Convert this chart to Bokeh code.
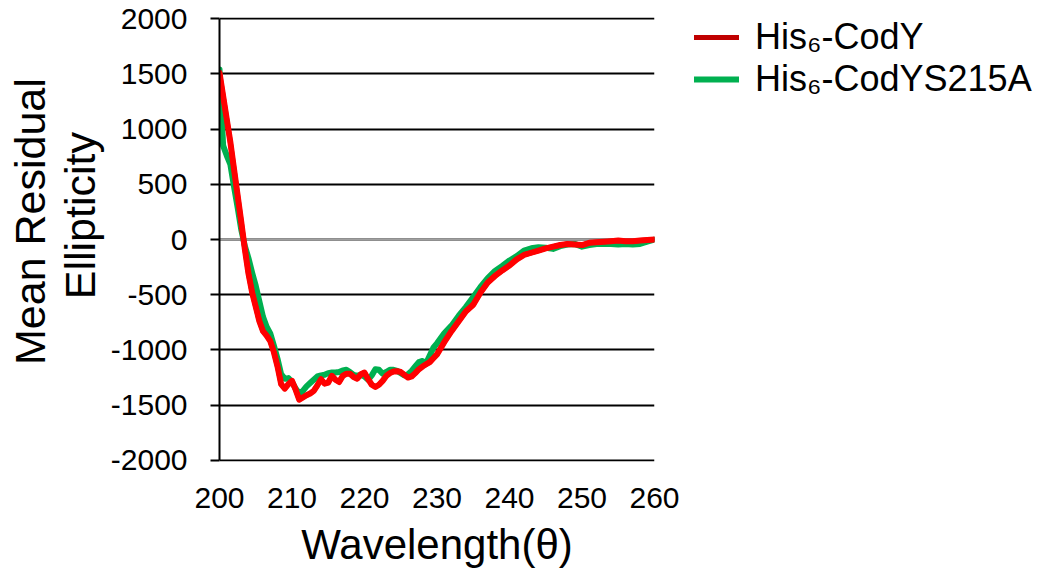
from bokeh.plotting import figure
from bokeh.models import (Range1d, SingleIntervalTicker, Span, Legend, LegendItem)
from bokeh.embed import file_html
from bokeh.resources import INLINE

# ---- data ----
wl_cody = [200.0, 200.5, 201.0, 201.5, 202.0, 202.5, 203.0, 203.5, 204.0, 204.5,
           205.0, 205.5, 206.0, 206.5, 207.0, 207.5, 208.0, 208.5, 209.0, 209.5,
           210.0, 210.5, 211.0, 211.5, 212.0, 212.5, 213.0, 213.5, 214.0, 214.5,
           215.0, 215.5, 216.0, 216.5, 217.0, 217.5, 218.0, 218.5, 219.0, 219.5,
           220.0, 220.5, 221.0, 221.5, 222.0, 222.5, 223.0, 223.5, 224.0, 224.5,
           225.0, 225.5, 226.0, 226.5, 227.0, 227.5, 228.0, 228.5, 229.0, 229.5,
           230.0, 231.0, 232.0, 233.0, 234.0, 235.0, 236.0, 237.0, 238.0, 239.0,
           240.0, 241.0, 242.0, 243.0, 244.0, 245.0, 246.0, 247.0, 248.0, 249.0,
           250.0, 251.0, 252.0, 253.0, 254.0, 255.0, 256.0, 257.0, 258.0, 259.0,
           260.0]
mre_cody = [1510, 1300, 1090, 880, 640, 400, 160, -90, -310, -480,
            -610, -740, -830, -870, -920, -1020, -1150, -1310, -1350, -1310,
            -1280, -1360, -1450, -1430, -1410, -1395, -1370, -1320, -1265, -1305,
            -1295, -1235, -1270, -1290, -1235, -1215, -1215, -1245, -1260, -1220,
            -1205, -1265, -1315, -1335, -1315, -1280, -1235, -1210, -1195, -1192,
            -1200, -1225, -1250, -1240, -1210, -1175, -1150, -1130, -1110, -1075,
            -1040, -930, -830, -740, -650, -590, -480, -390, -330, -280,
            -235, -180, -140, -120, -100, -80, -65, -50, -40, -45,
            -50, -30, -25, -20, -15, -10, -15, -15, -10, -5,
            0]

wl_s215a = [200.0, 200.5, 201.0, 201.5, 202.0, 202.5, 203.0, 203.5, 204.0, 204.5,
            205.0, 205.5, 206.0, 206.5, 207.0, 207.5, 208.0, 208.5, 209.0, 209.5,
            210.0, 210.5, 211.0, 211.5, 212.0, 212.5, 213.0, 213.5, 214.0, 214.5,
            215.0, 215.5, 216.0, 216.5, 217.0, 217.5, 218.0, 218.5, 219.0, 219.5,
            220.0, 220.5, 221.0, 221.5, 222.0, 222.5, 223.0, 223.5, 224.0, 224.5,
            225.0, 225.5, 226.0, 226.5, 227.0, 227.5, 228.0, 228.5, 229.0, 229.5,
            230.0, 231.0, 232.0, 233.0, 234.0, 235.0, 236.0, 237.0, 238.0, 239.0,
            240.0, 241.0, 242.0, 243.0, 244.0, 245.0, 246.0, 247.0, 248.0, 249.0,
            250.0, 251.0, 252.0, 253.0, 254.0, 255.0, 256.0, 257.0, 258.0, 259.0,
            260.0]
mre_s215a = [1540, 850, 760, 680, 480, 290, 90, -60, -170, -300,
             -420, -560, -700, -790, -850, -960, -1080, -1220, -1260, -1255,
             -1290, -1350, -1395, -1370, -1330, -1300, -1270, -1240, -1230, -1225,
             -1210, -1205, -1205, -1200, -1185, -1180, -1200, -1225, -1235, -1225,
             -1240, -1270, -1230, -1175, -1180, -1215, -1200, -1180, -1180, -1190,
             -1210, -1230, -1220, -1190, -1150, -1110, -1100, -1120, -1050, -980,
             -940, -850, -780, -690, -610, -520, -430, -350, -285, -240,
             -190, -150, -100, -80, -70, -75, -85, -60, -45, -40,
             -65, -50, -40, -40, -40, -45, -40, -45, -40, -20,
             0]

series_names = ["His\u2086-CodY", "His\u2086-CodYS215A"]
legend_colors = ["#C00000", "#00B050"]
line_colors = ["#FF0000", "#00B050"]

y_tick_values = [-2000, -1500, -1000, -500, 0, 500, 1000, 1500, 2000]
y_tick_labels = ["-2000", "-1500", "-1000", "-500", "0", "500", "1000", "1500", "2000"]
x_tick_step = 10

y_title_lines = ["Mean Residual", "Ellipticity"]
x_title = "Wavelength(\u03b8)"

FONT = "Liberation Sans"
NB = "\u00a0"

p = figure(frame_width=435, frame_height=444,
           min_border_left=219, min_border_right=390,
           min_border_top=17, min_border_bottom=100,
           x_range=Range1d(200, 260), y_range=Range1d(-2010, 2010),
           output_backend="svg", toolbar_location=None)
p.outline_line_color = None
p.background_fill_color = "white"
p.border_fill_color = "white"

# grids
p.xgrid.grid_line_color = None
p.ygrid.grid_line_color = "#000000"
p.ygrid.grid_line_width = 2
p.ygrid.ticker = y_tick_values

zero = Span(location=0, dimension="width", line_color="#A0A0A0", line_width=2, level="underlay")
p.add_layout(zero)

# y axis
ya = p.yaxis[0]
ya.ticker = y_tick_values
ya.major_label_overrides = {v: s for v, s in zip(y_tick_values, y_tick_labels)}
ya.bounds = (y_tick_values[0], y_tick_values[-1])
ya.axis_line_color = "#000000"
ya.axis_line_width = 2
ya.major_tick_line_color = "#000000"
ya.major_tick_line_width = 2
ya.major_tick_out = 9
ya.major_tick_in = 0
ya.minor_tick_line_color = None
ya.major_label_text_font = FONT
ya.major_label_text_font_size = "30px"
ya.major_label_text_color = "#000000"
ya.major_label_standoff = 23
ya.axis_label = (NB * 3 + y_title_lines[0]) + "\n" + (NB * 4 + y_title_lines[1])
ya.axis_label_text_font = FONT
ya.axis_label_text_font_size = "43px"
ya.axis_label_text_font_style = "normal"
ya.axis_label_text_color = "#000000"
ya.axis_label_text_line_height = 1.04
ya.axis_label_standoff = 4

# x axis
xa = p.xaxis[0]
xa.ticker = SingleIntervalTicker(interval=x_tick_step)
xa.axis_line_color = None
xa.major_tick_line_color = None
xa.minor_tick_line_color = None
xa.major_tick_out = 0
xa.major_tick_in = 0
xa.major_label_text_font = FONT
xa.major_label_text_font_size = "30px"
xa.major_label_text_color = "#000000"
xa.major_label_standoff = 22
xa.axis_label = x_title
xa.axis_label_text_font = FONT
xa.axis_label_text_font_size = "42px"
xa.axis_label_text_font_style = "normal"
xa.axis_label_text_color = "#000000"
xa.axis_label_standoff = 10

# curves (the dark-red one only provides the legend sample and is hidden under the red one)
r_s215a = p.line(wl_s215a, mre_s215a, line_color=line_colors[1], line_width=6,
                 line_join="round", line_cap="round")
r_leg0 = p.line(wl_cody, mre_cody, line_color=legend_colors[0], line_width=5,
                line_join="round", line_cap="round")
r_cody = p.line(wl_cody, mre_cody, line_color=line_colors[0], line_width=6,
                line_join="round", line_cap="round")

lg = Legend(items=[LegendItem(label=series_names[0], renderers=[r_leg0]),
                   LegendItem(label=series_names[1], renderers=[r_s215a])],
            location=(40, 361),
            orientation="vertical", padding=0, margin=0, spacing=0,
            glyph_width=45, glyph_height=30, label_height=30, label_standoff=16,
            label_text_font=FONT, label_text_font_size="36px", label_text_color="#000000",
            border_line_color=None, background_fill_alpha=0)
p.add_layout(lg, "right")

open("out.html", "w").write(file_html(p, INLINE))
